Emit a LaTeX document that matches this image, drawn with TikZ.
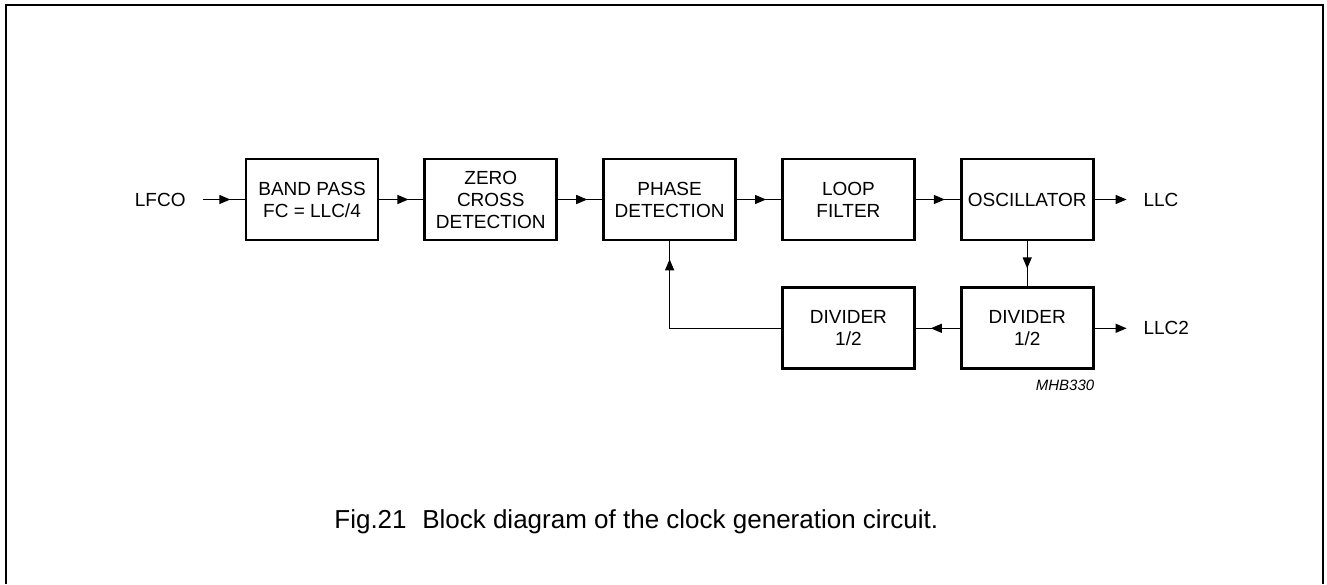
\documentclass[tikz,border=0pt]{standalone}
\usepackage{fontspec}
\setmainfont{Liberation Sans}
\usetikzlibrary{positioning,arrows.meta,decorations.markings}

\tikzset{
  block/.style={rectangle, draw, line width=1.4pt, minimum width=66pt, minimum height=40.5pt,
    align=center, font=\fontsize{9.5}{11}\selectfont, inner sep=0pt},
  lbl/.style={inner sep=0pt, outer xsep=8.5pt, font=\fontsize{9.5}{11}\selectfont},
  tip/.style={-{Triangle[length=5.5pt,width=4.5pt]}},
  midarrow/.style={postaction={decorate}, decoration={markings,
    mark=at position #1 with {\arrow{Triangle[length=5.5pt,width=4.5pt]}}}},
  wire/.style={line width=0.6pt}
}

\begin{document}
\begin{tikzpicture}[x=0.5pt, y=-0.5pt]
  \useasboundingbox (0,0) rectangle (1327,584);
  \draw[line width=1pt] (6,584) -- (6,5) -- (1323,5) -- (1323,584);

  \node[block] (band) at (312,199.5) {BAND PASS\\FC = LLC/4};
  \node[block, right=22pt of band] (zero) {ZERO\\CROSS\\DETECTION};
  \node[block, right=22pt of zero] (phase) {PHASE\\DETECTION};
  \node[block, right=22pt of phase] (loop) {LOOP\\FILTER};
  \node[block, right=22pt of loop] (osc) {OSCILLATOR};
  \node[block, below=22.5pt of osc] (divR) {DIVIDER\\1/2};
  \node[block, left=22pt of divR] (divL) {DIVIDER\\1/2};

  \node[lbl, left=21pt of band] (lfco) {LFCO};
  \node[lbl, right=16pt of osc] (llc) {LLC};
  \node[lbl, right=16pt of divR] (llc2) {LLC2};
  \node[anchor=north east, inner sep=0pt, font=\fontsize{7.5}{9}\itshape]
    (mhb) at ([yshift=-4.5pt]divR.south east) {MHB330};

  \foreach \from/\to in {lfco/band, band/zero, zero/phase, phase/loop, loop/osc}
    \draw[wire, midarrow=0.66] (\from.east) -- (\to.west);
  \draw[wire, midarrow=0.6] (osc) -- (divR);
  \draw[wire, midarrow=0.66] (divR) -- (divL);
  \draw[wire, midarrow=0.91] (divL.west) -| (phase.south);
  \draw[wire, tip] (osc) -- (llc);
  \draw[wire, tip] (divR) -- (llc2);

  \node[anchor=base west, inner sep=0pt, font=\fontsize{13}{15}\selectfont] (caption) at (334,528)
    {Fig.21\hspace{0.6em}Block diagram of the clock generation circuit.};
\end{tikzpicture}
\end{document}
